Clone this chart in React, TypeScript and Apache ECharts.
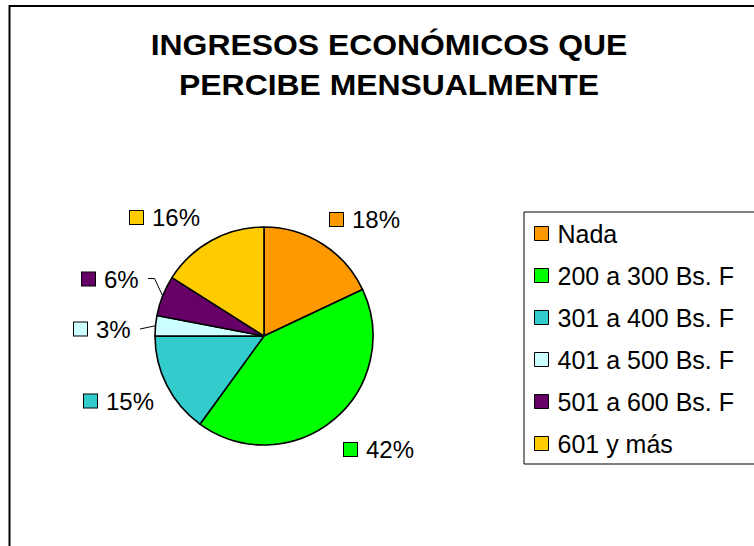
import React, { useEffect, useRef } from 'react';
import * as echarts from 'echarts';

const CATEGORIES = ['Nada', '200 a 300 Bs. F', '301 a 400 Bs. F', '401 a 500 Bs. F', '501 a 600 Bs. F', '601 y más'];
const VALUES = [18, 42, 15, 3, 6, 16];
const COLORS = ['#FF9900', '#00FF00', '#33CCCC', '#CCFFFF', '#660066', '#FFCC00'];
const TITLE_LINES = ['INGRESOS ECONÓMICOS QUE', 'PERCIBE MENSUALMENTE'];

// Label placement: left edge of marker and vertical centre (px)
const LABEL_ANCHORS: number[][] = [[330, 219.5], [344, 449.5], [84, 401], [74, 329], [82, 279], [130, 217.5]];
// Knee points of leader lines (only for labels that have one)
const LEADER_KNEES: Record<number, number[][]> = {
  3: [[140, 329]],
  4: [[154.5, 278.5], [148, 278.5]],
};

const FONT = '"Liberation Sans", Arial, Helvetica, sans-serif';

export default function App() {
  const ref = useRef<HTMLDivElement>(null);
  useEffect(() => {
    if (!ref.current) return;
    const chart = echarts.init(ref.current, null, { renderer: 'svg' });
    const rich: Record<string, any> = {
      s: { width: 9, height: 12 },
      t: { fontSize: 24, fontFamily: FONT, color: '#000' },
    };
    COLORS.forEach((c, i) => {
      rich['m' + i] = { width: 13, height: 13, backgroundColor: c, borderColor: '#000', borderWidth: 1 };
    });
    const option: any = {
      animation: false,
      backgroundColor: '#fff',
      color: COLORS,
      graphic: [
        {
          type: 'rect',
          shape: { x: 9.5, y: 6, width: 800, height: 600 },
          style: { fill: 'none', stroke: '#000', lineWidth: 2 },
          silent: true,
        },
        {
          type: 'text',
          x: 389,
          y: 65,
          scaleX: 1.1,
          style: {
            text: TITLE_LINES.join('\n'),
            font: 'bold 29px ' + FONT,
            fill: '#000',
            textAlign: 'center',
            textVerticalAlign: 'middle',
            align: 'center',
            verticalAlign: 'middle',
            lineHeight: 40,
          },
        },
      ],
      legend: {
        orient: 'vertical',
        left: 524,
        top: 212,
        data: CATEGORIES,
        icon: 'rect',
        itemWidth: 14,
        itemHeight: 14,
        itemGap: 17,
        selectedMode: false,
        itemStyle: { borderColor: '#000', borderWidth: 1 },
        textStyle: { fontSize: 25, fontFamily: FONT, color: '#000', padding: [0, 0, 0, 4] },
        borderColor: '#000',
        borderWidth: 1,
        padding: [9, 40, 8, 10],
      },
      series: [
        {
          type: 'pie',
          center: [264, 336],
          radius: 109,
          startAngle: 90,
          clockwise: true,
          avoidLabelOverlap: false,
          itemStyle: { borderColor: '#000', borderWidth: 1.6 },
          emphasis: { disabled: true },
          label: {
            show: true,
            position: 'outside',
            formatter: (p: any) => `{m${p.dataIndex}|}{s|}{t|${p.value}%}`,
            rich,
          },
          labelLine: { show: true, lineStyle: { color: '#000', width: 1 } },
          labelLayout: (params: any) => {
            const i = params.dataIndex;
            const [x, y] = LABEL_ANCHORS[i];
            const res: any = { x, y, align: 'left', verticalAlign: 'middle' };
            const knees = LEADER_KNEES[i];
            if (knees && params.labelLinePoints) {
              res.labelLinePoints = [params.labelLinePoints[0], ...knees];
            }
            return res;
          },
          data: CATEGORIES.map((name, i) => ({
            name,
            value: VALUES[i],
            labelLine: { show: LEADER_KNEES[i] != null },
          })),
        },
      ],
    };
    chart.setOption(option);
    return () => chart.dispose();
  }, []);
  return (
    <div
      ref={ref}
      style={{ position: 'fixed', left: 0, top: 0, width: 754, height: 546, background: '#fff' }}
    />
  );
}
